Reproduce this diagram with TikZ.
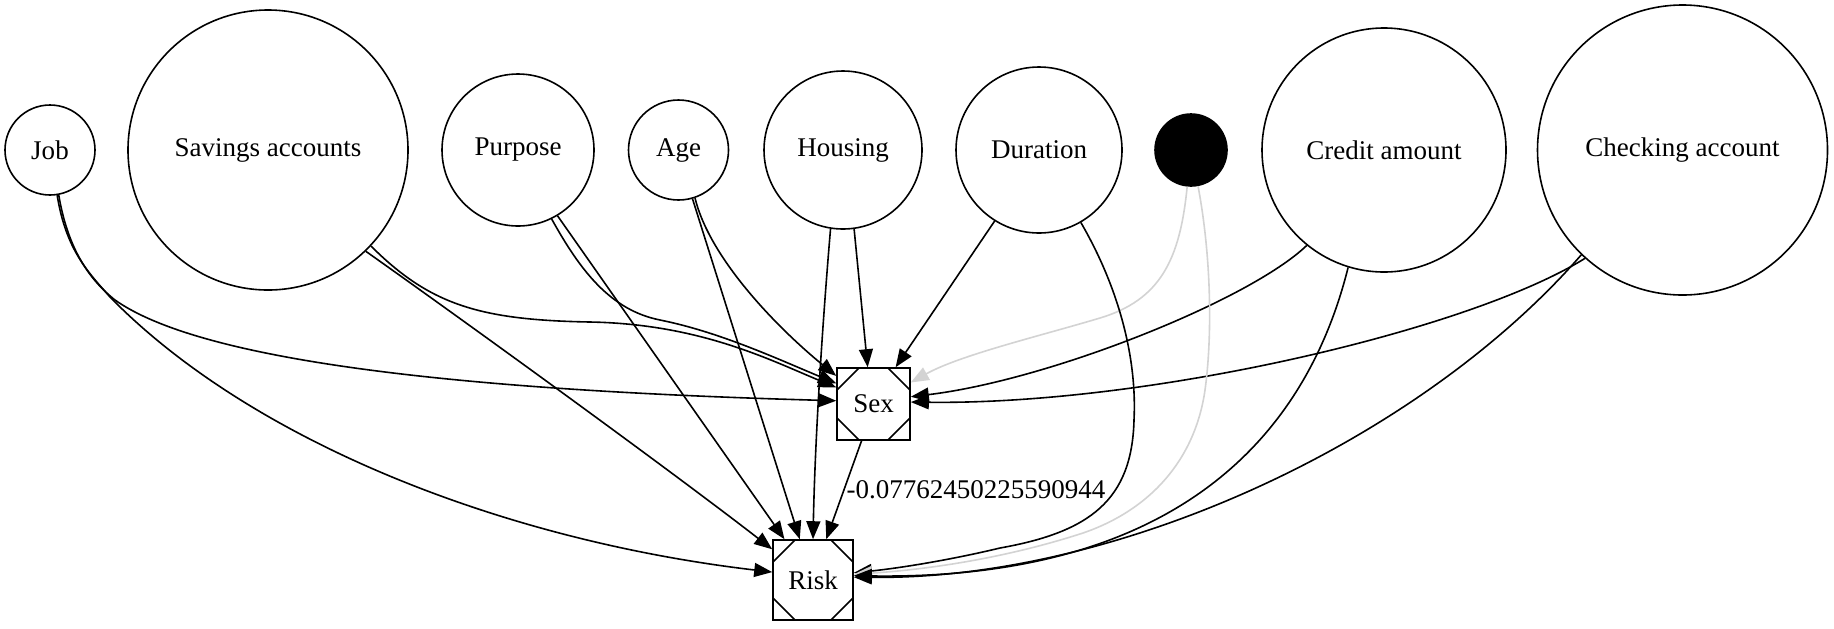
\documentclass[tikz,border=0pt]{standalone}
\usepackage{fontspec}
\setmainfont{Liberation Serif}
\usetikzlibrary{arrows.meta}
\definecolor{lightedge}{RGB}{211,211,211}
\begin{document}
\begin{tikzpicture}[x=0.5pt, y=-0.5pt, line width=0.8pt,
    font=\fontsize{13.5}{16}\selectfont,
    var/.style={draw, circle, inner sep=0pt},
    msq/.style={draw, rectangle, inner sep=0pt, path picture={
        \draw ([xshift=11pt]path picture bounding box.north west) -- ([yshift=-11pt]path picture bounding box.north west);
        \draw ([xshift=-11pt]path picture bounding box.north east) -- ([yshift=-11pt]path picture bounding box.north east);
        \draw ([xshift=11pt]path picture bounding box.south west) -- ([yshift=11pt]path picture bounding box.south west);
        \draw ([xshift=-11pt]path picture bounding box.south east) -- ([yshift=11pt]path picture bounding box.south east);}},
    link/.style={-{Triangle[length=9pt,width=7pt]}},
    graylink/.style={link, color=lightedge}]
    \useasboundingbox (0,0) rectangle (1834,628);
    % variables
    \node[var, minimum size=45pt] (job) at (50,150) {Job};
    \node[var, minimum size=140pt] (savings) at (268,150) {Savings accounts};
    \node[var, minimum size=76pt] (purpose) at (518,150) {Purpose};
    \node[var, minimum size=50pt] (age) at (678.5,150) {Age};
    \node[var, minimum size=79pt] (housing) at (843,150) {Housing};
    \node[var, minimum size=83pt] (duration) at (1039,150) {Duration};
    \node[var, fill=black, minimum size=36pt] (hidden) at (1191,150) {};
    \node[var, minimum size=122pt] (credit) at (1384,150) {Credit amount};
    \node[var, minimum size=145pt] (checking) at (1682.5,150) {Checking account};
    \node[msq, minimum width=36.5pt, minimum height=36pt] (sex) at (873.5,404) {Sex};
    \node[msq, minimum size=40pt] (risk) at (813,580) {Risk};
    % edges into Sex
    \draw[link] (job.-79) .. controls (68,250) and (90,280) .. (115,300) .. controls (200,360) and (450,390) .. (sex.175);
    \draw[link] (savings.-43) .. controls (430,305) and (480,320) .. (590,322) .. controls (700,324) and (770,360) .. (sex.156);
    \draw[link] (purpose.-64) .. controls (580,270) and (610,310) .. (660,320) .. controls (720,332) and (780,360) .. (sex.151);
    \draw[link] (age.-71) .. controls (710,260) and (780,330) .. (sex.143);
    \draw[link] (housing.-82) -- (sex.99);
    \draw[link] (duration.-122) -- (sex.59);
    \draw[graylink] (hidden.-96) .. controls (1180,260) and (1160,300) .. (1100,318) .. controls (1040,336) and (960,355) .. (sex.30);
    \draw[link] (credit.-129) .. controls (1250,300) and (1050,380) .. (sex.11);
    \draw[link] (checking.-132) .. controls (1470,330) and (1150,405) .. (sex.3);
    % edges into Risk
    \draw[link] (job.-81) .. controls (66,250) and (88,272) .. (110,297) .. controls (250,440) and (500,540) .. (risk.169);
    \draw[link] (savings.-46) .. controls (470,325) and (670,470) .. (risk.143);
    \draw[link] (purpose.-59) -- (risk.125);
    \draw[link] (age.-74) -- (risk.108);
    \draw[link] (housing.-99) .. controls (822,330) and (815,440) .. (risk.90);
    \draw[link] (sex.-108) -- (risk.72) node[pos=0.5, anchor=west, inner sep=1pt] {-0.07762450225590944};
    \draw[link] (duration.-60) .. controls (1120,290) and (1137,360) .. (1134,420) .. controls (1132,500) and (1090,532) .. (1000,548) .. controls (950,560) and (900,568) .. (risk.10);
    \draw[graylink] (hidden.-79) .. controls (1212,260) and (1212,340) .. (1205,390) .. controls (1195,460) and (1150,510) .. (1083,533) .. controls (1000,560) and (920,570) .. (risk.8);
    \draw[link] (credit.-107) .. controls (1300,460) and (1150,580) .. (risk.6);
    \draw[link] (checking.-134) .. controls (1420,440) and (1120,580) .. (risk.4);
\end{tikzpicture}
\end{document}
